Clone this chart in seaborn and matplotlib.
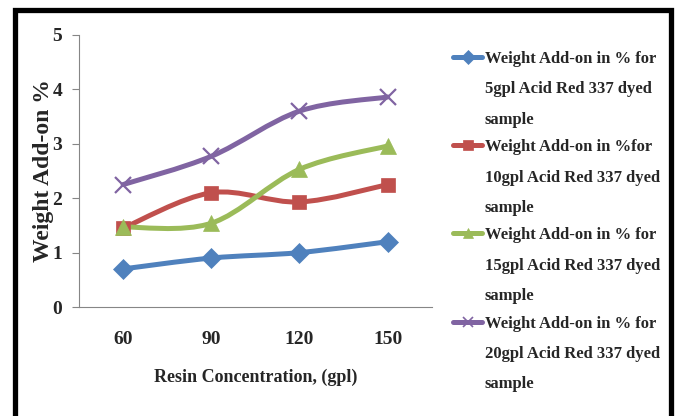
import numpy as np
import pandas as pd
import seaborn as sns
import matplotlib.pyplot as plt
from matplotlib.path import Path
from matplotlib.patches import PathPatch, Rectangle
from matplotlib.lines import Line2D
from matplotlib.offsetbox import HPacker

# data
concentrations = ["60", "90", "120", "150"]
dye_5gpl = [0.70, 0.90, 1.00, 1.20]
dye_10gpl = [1.45, 2.10, 1.93, 2.25]
dye_15gpl = [1.47, 1.54, 2.53, 2.96]
dye_20gpl = [2.25, 2.77, 3.60, 3.86]

labels = [
    "Weight Add-on in % for\n5gpl Acid Red 337 dyed\nsample",
    "Weight Add-on in %for\n10gpl Acid Red 337 dyed\nsample",
    "Weight Add-on in % for\n15gpl Acid Red 337 dyed\nsample",
    "Weight Add-on in % for\n20gpl Acid Red 337 dyed\nsample",
]
colors = ["#4F81BD", "#C0504D", "#9BBB59", "#8064A2"]
markers = ["D", "s", "^", "x"]
msizes = [10, 10, 11, 12]

sns.set_style("white")
plt.rcParams["font.family"] = ["Liberation Serif", "DejaVu Serif"]
plt.rcParams["font.weight"] = "bold"


def smooth_path(xs, ys):
    # excel-like smoothed line (catmull-rom style bezier through the points)
    pts = np.column_stack([xs, ys]).astype(float)
    n = len(pts)
    verts = [pts[0]]
    codes = [Path.MOVETO]
    for i in range(n - 1):
        p0 = pts[i - 1] if i > 0 else pts[i]
        p1 = pts[i]
        p2 = pts[i + 1]
        p3 = pts[i + 2] if i + 2 < n else pts[i + 1]
        c1 = p1 + (p2 - p0) / 6
        c2 = p2 - (p3 - p1) / 6
        verts += [c1, c2, p2]
        codes += [Path.CURVE4] * 3
    return Path(verts, codes)


fig = plt.figure(figsize=(6.81, 4.16), dpi=100)
ax = fig.add_axes([0.116, 0.262, 0.518, 0.654])

series = [dye_5gpl, dye_10gpl, dye_15gpl, dye_20gpl]
xpos = np.arange(len(concentrations))
for vals, c, m, ms in zip(series, colors, markers, msizes):
    ax.add_patch(PathPatch(smooth_path(xpos, vals), fill=False,
                           edgecolor=c, lw=3.6, capstyle="round", zorder=2))
    df = pd.DataFrame({"conc": xpos, "val": vals})
    sns.lineplot(data=df, x="conc", y="val", ax=ax, color=c, marker=m,
                 markersize=ms, markeredgecolor=c,
                 markeredgewidth=1.6 if m == "x" else 0.5, lw=0, zorder=3)

ax.set_xlim(-0.5, 3.5)
ax.set_ylim(0, 5)
ax.set_xticks(xpos)
ax.set_xticklabels(concentrations)
ax.set_yticks([0, 1, 2, 3, 4, 5])
ax.tick_params(axis="x", length=0, pad=17, labelsize=14)
ax.tick_params(axis="y", length=5, width=0.8, color="#868686", pad=7, labelsize=14,
               left=True)
for side in ["top", "right"]:
    ax.spines[side].set_visible(False)
for side in ["left", "bottom"]:
    ax.spines[side].set_color("#868686")
    ax.spines[side].set_linewidth(0.8)

ax.set_xlabel("Resin Concentration, (gpl)", fontsize=13, fontweight="bold", labelpad=15)
ax.set_ylabel("Weight Add-on %", fontsize=17, fontweight="bold", labelpad=-1)

handles = [Line2D([], [], color=c, lw=3.6, marker=m, markersize=7,
                  markeredgewidth=1.2 if m == "x" else 0.5)
           for c, m in zip(colors, markers)]
leg = fig.legend(handles, labels, loc="upper left",
                 bbox_to_anchor=(453 / 681, 1 - 51 / 416), frameon=False,
                 prop={"family": "Liberation Serif", "weight": "bold", "size": 12},
                 handlelength=1.75, handletextpad=0.15, labelspacing=0.70,
                 borderpad=0, borderaxespad=0)
for t in leg.get_texts():
    t.set_linespacing(2.19)
for hp in leg.findobj(HPacker):
    hp.align = "top"

# black frame around the chart
fig.patches.append(Rectangle((15 / 681, -0.1), (671 - 15) / 681, 1.1 - 9.5 / 416,
                             transform=fig.transFigure, fill=False,
                             edgecolor="black", lw=3.8, clip_on=False))

fig.savefig("out.png", dpi=100)
